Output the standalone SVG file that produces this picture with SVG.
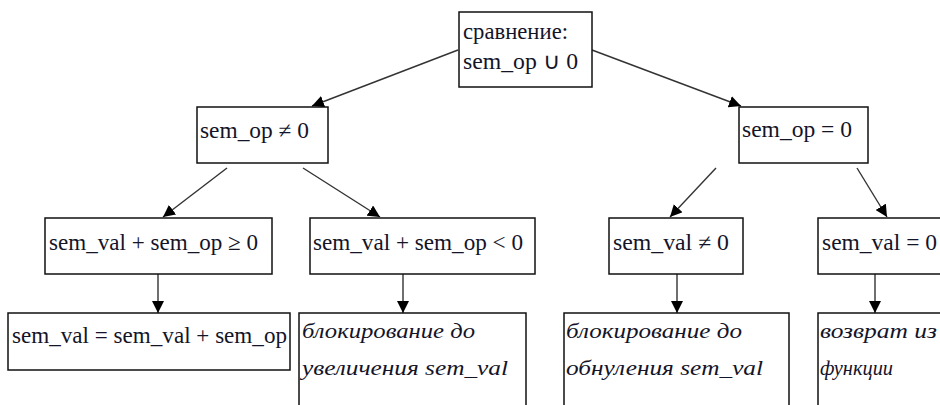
<svg xmlns="http://www.w3.org/2000/svg" width="940" height="405" viewBox="0 0 940 405">
<style>
.box{fill:#fff;stroke:#111;stroke-width:1.5}
.t{font-size:23px;fill:#141428}
.i{font-size:22px;font-style:italic;fill:#141428}
.c{stroke:#333;stroke-width:1.4;fill:none;marker-end:url(#ah)}
</style>
<defs>
<marker id="ah" markerUnits="userSpaceOnUse" markerWidth="12" markerHeight="12" viewBox="0 0 12 12" refX="12" refY="6" orient="auto">
<path d="M0,0 L12,6 L0,12 Z" fill="#000"/>
</marker>
</defs>
<g id="connectors">
<line class="c" x1="458" y1="50" x2="312" y2="106"/>
<line class="c" x1="592" y1="50" x2="741" y2="106"/>
<line class="c" x1="227" y1="168" x2="163" y2="217"/>
<line class="c" x1="303" y1="168" x2="380" y2="217"/>
<line class="c" x1="716" y1="168" x2="670" y2="217"/>
<line class="c" x1="857" y1="168" x2="887" y2="217"/>
<line class="c" x1="158" y1="274" x2="158" y2="313"/>
<line class="c" x1="403" y1="274" x2="403" y2="313"/>
<line class="c" x1="677" y1="274" x2="677" y2="313"/>
<line class="c" x1="875" y1="274" x2="875" y2="313"/>
</g>
<g font-family="Liberation Serif, Times New Roman, serif">
<g id="n-root">
<rect class="box" x="459" y="12" width="133" height="75"/>
<text class="t" x="463" y="39" textLength="105" lengthAdjust="spacingAndGlyphs">сравнение:</text>
<text class="t" x="463" y="69" textLength="115" lengthAdjust="spacingAndGlyphs">sem_op ∪ 0</text>
</g>
<g id="n-opnz">
<rect class="box" x="197" y="107" width="131" height="56"/>
<text class="t" x="200" y="138" textLength="109" lengthAdjust="spacingAndGlyphs">sem_op ≠ 0</text>
</g>
<g id="n-opz">
<rect class="box" x="739" y="107" width="129" height="56"/>
<text class="t" x="742" y="137" textLength="110" lengthAdjust="spacingAndGlyphs">sem_op = 0</text>
</g>
<g id="n-ge">
<rect class="box" x="45" y="218" width="227" height="56"/>
<text class="t" x="49" y="250" textLength="209" lengthAdjust="spacingAndGlyphs">sem_val + sem_op ≥ 0</text>
</g>
<g id="n-lt">
<rect class="box" x="310" y="218" width="225" height="56"/>
<text class="t" x="313" y="250" textLength="210" lengthAdjust="spacingAndGlyphs">sem_val + sem_op &lt; 0</text>
</g>
<g id="n-valnz">
<rect class="box" x="609" y="218" width="134" height="56"/>
<text class="t" x="613" y="250" textLength="116" lengthAdjust="spacingAndGlyphs">sem_val ≠ 0</text>
</g>
<g id="n-valz">
<rect class="box" x="818" y="218" width="130" height="56"/>
<text class="t" x="822" y="250" textLength="115" lengthAdjust="spacingAndGlyphs">sem_val = 0</text>
</g>
<g id="n-assign">
<rect class="box" x="8" y="313" width="282" height="57"/>
<text class="t" x="12" y="343" textLength="275" lengthAdjust="spacingAndGlyphs">sem_val = sem_val + sem_op</text>
</g>
<g id="n-block-inc">
<rect class="box" x="299" y="313" width="227" height="100"/>
<text class="i" x="302" y="338" textLength="173" lengthAdjust="spacingAndGlyphs">блокирование до</text>
<text class="i" x="302" y="375" textLength="206" lengthAdjust="spacingAndGlyphs">увеличения sem_val</text>
</g>
<g id="n-block-zero">
<rect class="box" x="564" y="313" width="225" height="100"/>
<text class="i" x="566" y="338" textLength="176" lengthAdjust="spacingAndGlyphs">блокирование до</text>
<text class="i" x="566" y="375" textLength="197" lengthAdjust="spacingAndGlyphs">обнуления sem_val</text>
</g>
<g id="n-return">
<rect class="box" x="818" y="313" width="130" height="100"/>
<text class="i" x="820" y="338" textLength="117" lengthAdjust="spacingAndGlyphs">возврат из</text>
<text class="i" x="820" y="375" textLength="73" lengthAdjust="spacingAndGlyphs">функции</text>
</g>
</g>
</svg>
